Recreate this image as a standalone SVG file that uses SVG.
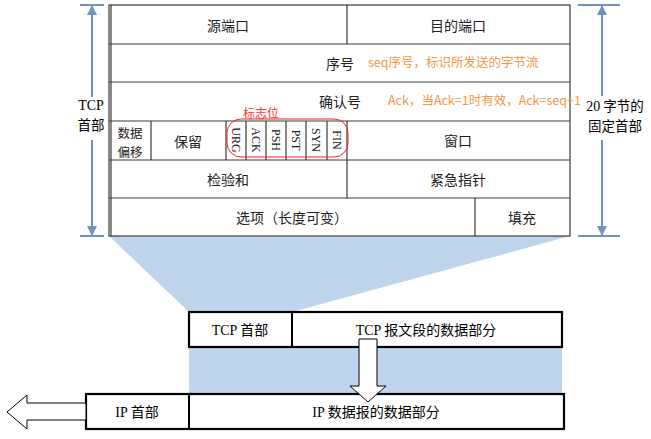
<svg xmlns="http://www.w3.org/2000/svg" width="651" height="439" viewBox="0 0 651 439">
<style>
.cn{font-family:"Noto Sans CJK SC","Liberation Sans",sans-serif;font-size:14px;fill:#222;text-anchor:middle}
.sr{font-family:"Liberation Serif","Noto Sans CJK SC",serif;font-size:14px;fill:#000;text-anchor:middle}
.fl{font-family:"Liberation Serif",serif;font-size:12px;fill:#222;text-anchor:middle;dominant-baseline:central}
.or{font-family:"Noto Sans CJK SC","Liberation Sans",sans-serif;font-size:12.5px;fill:#f79646}
.tl{stroke:#3a3a3a;stroke-width:1.2;fill:none}
.bx{stroke:#000;stroke-width:2.2;fill:#fff}
.dim{stroke:#6f93c0;stroke-width:2;fill:none}
</style>
<defs>
<marker id="ah" viewBox="0 0 10 10" refX="9" refY="5" markerWidth="5" markerHeight="5" orient="auto">
<path d="M0,0 L10,5 L0,10 z" fill="#6f93c0"/>
</marker>
</defs>
<g id="shade">
<polygon points="109,236 570,236 292,312 189,312" fill="#bed5ec"/>
<rect x="189" y="347" width="373" height="47" fill="#bed5ec"/>
</g>
<g id="tcp-header">
<rect x="109" y="5" width="461" height="231" fill="#fff" class="tl"/>
<line x1="111" y1="5" x2="111" y2="236" class="tl"/>
<line x1="109" y1="44" x2="570" y2="44" class="tl"/>
<line x1="109" y1="82" x2="570" y2="82" class="tl"/>
<line x1="109" y1="121" x2="570" y2="121" class="tl"/>
<line x1="109" y1="160" x2="570" y2="160" class="tl"/>
<line x1="109" y1="198" x2="570" y2="198" class="tl"/>
<line x1="347" y1="5" x2="347" y2="44" class="tl"/>
<line x1="151" y1="121" x2="151" y2="160" class="tl"/>
<line x1="226" y1="121" x2="226" y2="160" class="tl"/>
<line x1="246" y1="121" x2="246" y2="160" class="tl"/>
<line x1="266" y1="121" x2="266" y2="160" class="tl"/>
<line x1="286" y1="121" x2="286" y2="160" class="tl"/>
<line x1="306" y1="121" x2="306" y2="160" class="tl"/>
<line x1="327" y1="121" x2="327" y2="160" class="tl"/>
<line x1="347" y1="121" x2="347" y2="198" class="tl"/>
<line x1="475" y1="198" x2="475" y2="236" class="tl"/>
<text x="228" y="31" class="cn">源端口</text>
<text x="458" y="31" class="cn">目的端口</text>
<text x="340" y="69" class="cn">序号</text>
<text x="340" y="107" class="cn">确认号</text>
<text x="130" y="137.5" class="cn" style="font-size:12.5px">数据</text>
<text x="130" y="156.5" class="cn" style="font-size:12.5px">偏移</text>
<text x="188" y="147" class="cn">保留</text>
<text x="236" y="140" class="fl" transform="rotate(90 236 140)">URG</text>
<text x="256" y="140" class="fl" transform="rotate(90 256 140)">ACK</text>
<text x="276" y="140" class="fl" transform="rotate(90 276 140)">PSH</text>
<text x="296" y="140" class="fl" transform="rotate(90 296 140)">PST</text>
<text x="316" y="140" class="fl" transform="rotate(90 316 140)">SYN</text>
<text x="337" y="140" class="fl" transform="rotate(90 337 140)">FIN</text>
<text x="458" y="146" class="cn">窗口</text>
<text x="228" y="185" class="cn">检验和</text>
<text x="458" y="185" class="cn">紧急指针</text>
<text x="292" y="223" class="cn">选项（长度可变）</text>
<text x="522" y="223" class="cn">填充</text>
</g>
<g id="annotations">
<text x="368" y="67" class="or">seq序号，标识所发送的字节流</text>
<text x="388" y="105" class="or">Ack，当Ack=1时有效，Ack=seq+1</text>
<rect x="227" y="119" width="121" height="38" rx="14" ry="14" fill="none" stroke="#ff2020" stroke-width="1"/>
<text x="243" y="118" style="font-family:'Noto Sans CJK SC',sans-serif;font-size:12px;fill:#ff3030">标志位</text>
</g>
<g id="dim-left">
<line x1="80" y1="5" x2="104" y2="5" class="dim"/>
<line x1="80" y1="236" x2="104" y2="236" class="dim"/>
<line x1="92" y1="97" x2="92" y2="6" class="dim" marker-end="url(#ah)"/>
<line x1="92" y1="140" x2="92" y2="235" class="dim" marker-end="url(#ah)"/>
<text x="91" y="110" class="sr">TCP</text>
<text x="91" y="130" class="cn" style="fill:#000;font-size:13.5px">首部</text>
</g>
<g id="dim-right">
<line x1="578" y1="5" x2="620" y2="5" class="dim"/>
<line x1="578" y1="236" x2="620" y2="236" class="dim"/>
<line x1="602" y1="96" x2="602" y2="6" class="dim" marker-end="url(#ah)"/>
<line x1="602" y1="140" x2="602" y2="235" class="dim" marker-end="url(#ah)"/>
<text x="615" y="111" class="cn" style="fill:#000;font-size:13.5px"><tspan style="font-family:'Liberation Serif',serif;font-size:14px">20</tspan> 字节的</text>
<text x="615" y="131" class="cn" style="fill:#000;font-size:13.5px">固定首部</text>
</g>
<g id="tcp-segment">
<rect x="189" y="312" width="373" height="35" class="bx"/>
<line x1="292" y1="312" x2="292" y2="347" stroke="#000" stroke-width="2"/>
<text x="240" y="335" class="sr">TCP  首部</text>
<text x="426" y="335" class="sr">TCP  报文段的数据部分</text>
</g>
<g id="ip-datagram">
<rect x="86" y="394" width="478" height="35" class="bx"/>
<line x1="189" y1="394" x2="189" y2="429" stroke="#000" stroke-width="2"/>
<text x="137" y="417" class="sr">IP  首部</text>
<text x="376" y="417" class="sr">IP  数据报的数据部分</text>
</g>
<g id="connectors">
<polygon points="359,339 377,339 377,386 386,386 368,402 350,386 359,386" fill="#fff" stroke="#000" stroke-width="1"/>
<polygon points="86,403 27,403 27,395 7,412 27,429 27,420 86,420" fill="#fff" stroke="#000" stroke-width="1"/>
</g>
</svg>
